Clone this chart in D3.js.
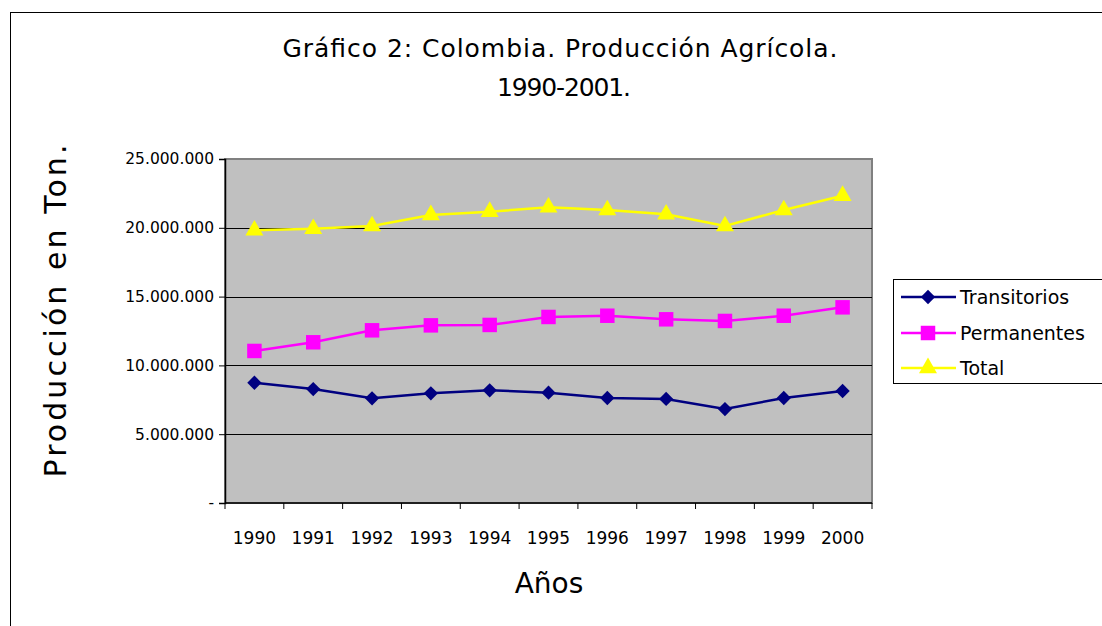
<!DOCTYPE html>
<html>
<head>
<meta charset="utf-8">
<script src="https://cdn.jsdelivr.net/npm/d3@7"></script>
<style>
  html, body { margin: 0; padding: 0; background: #fff; }
  svg text { font-family: "DejaVu Sans", sans-serif; fill: #000; }
</style>
</head>
<body>
<div id="chart"></div>
<script>
// Colombia agricultural production, tons
const years = ["1990", "1991", "1992", "1993", "1994", "1995", "1996", "1997", "1998", "1999", "2000"];
const transitorios = [8740000, 8280000, 7610000, 7970000, 8190000, 8020000, 7630000, 7560000, 6830000, 7630000, 8140000];
const permanentes = [11050000, 11680000, 12550000, 12910000, 12940000, 13520000, 13610000, 13350000, 13230000, 13610000, 14220000];
const total = [19820000, 19930000, 20130000, 20930000, 21170000, 21490000, 21290000, 20980000, 20130000, 21290000, 22330000];
const yTicks = [0, 5000000, 10000000, 15000000, 20000000, 25000000];

const series = [
  { name: "Transitorios", values: transitorios, color: "#000080", symbol: d3.symbolDiamond2, size: 130 },
  { name: "Permanentes", values: permanentes, color: "#FF00FF", symbol: d3.symbolSquare, size: 210 },
  { name: "Total", values: total, color: "#FFFF00", symbol: d3.symbolTriangle, size: 140 }
];

const W = 1102, H = 626;
const plot = { left: 225, top: 159, right: 872, bottom: 503 };

const svg = d3.select("#chart").append("svg")
    .attr("width", W)
    .attr("height", H);

// outer chart border (cut off on right/bottom like the original)
svg.append("rect")
    .attr("x", 10.5).attr("y", 12.5)
    .attr("width", W).attr("height", H)
    .attr("fill", "#fff")
    .attr("stroke", "#000")
    .attr("stroke-width", 1);

// title
svg.append("text")
    .attr("x", 560).attr("y", 57)
    .attr("text-anchor", "middle")
    .attr("textLength", 555)
    .attr("lengthAdjust", "spacing")
    .style("font-size", "25px")
    .text("Gráfico 2: Colombia. Producción Agrícola.");
svg.append("text")
    .attr("x", 564).attr("y", 96)
    .attr("text-anchor", "middle")
    .attr("textLength", 134)
    .attr("lengthAdjust", "spacing")
    .style("font-size", "25px")
    .text("1990-2001.");

const x = d3.scaleBand()
    .domain(years)
    .range([plot.left, plot.right]);

const y = d3.scaleLinear()
    .domain([0, 25000000])
    .range([plot.bottom, plot.top]);

const esFormat = d3.formatLocale({ decimal: ",", thousands: ".", grouping: [3], currency: ["", ""] }).format(",.0f");

// plot background
svg.append("rect")
    .attr("x", plot.left).attr("y", plot.top)
    .attr("width", plot.right - plot.left)
    .attr("height", plot.bottom - plot.top)
    .attr("fill", "#C0C0C0")
    .attr("stroke", "#808080")
    .attr("stroke-width", 2);

// gridlines
svg.append("g")
    .selectAll("line")
    .data(yTicks.filter(d => d > 0 && d < 25000000))
    .join("line")
    .attr("x1", plot.left).attr("x2", plot.right)
    .attr("y1", d => Math.round(y(d)) + 0.5)
    .attr("y2", d => Math.round(y(d)) + 0.5)
    .attr("stroke", "#000")
    .attr("stroke-width", 1);

// y axis
const yAxis = svg.append("g")
    .attr("transform", `translate(${plot.left},0)`)
    .call(d3.axisLeft(y)
        .tickValues(yTicks)
        .tickSize(6)
        .tickPadding(5)
        .tickFormat(d => d === 0 ? "-" : esFormat(d)));
yAxis.select(".domain").attr("stroke", "#000").attr("stroke-width", 1.5);
yAxis.selectAll("text")
    .style("font-size", "15.5px")
    .style("font-family", "DejaVu Sans, sans-serif");

// x axis: ticks between categories
const xAxisG = svg.append("g")
    .attr("transform", `translate(0,${plot.bottom})`);
xAxisG.append("line")
    .attr("x1", plot.left).attr("x2", plot.right)
    .attr("stroke", "#000").attr("stroke-width", 1.5);
xAxisG.selectAll("line.tick")
    .data(years.concat(["end"]))
    .join("line")
    .attr("class", "tick")
    .attr("x1", (d, i) => i < years.length ? x(d) : plot.right)
    .attr("x2", (d, i) => i < years.length ? x(d) : plot.right)
    .attr("y1", 0).attr("y2", 6)
    .attr("stroke", "#000");
xAxisG.selectAll("text")
    .data(years)
    .join("text")
    .attr("x", d => x(d) + x.bandwidth() / 2)
    .attr("y", 41)
    .attr("text-anchor", "middle")
    .style("font-size", "17px")
    .text(d => d);

// axis titles
svg.append("text")
    .attr("x", 549).attr("y", 593)
    .attr("text-anchor", "middle")
    .style("font-size", "28px")
    .text("Años");
svg.append("text")
    .attr("transform", "translate(66,311) rotate(-90)")
    .attr("text-anchor", "middle")
    .attr("textLength", 333)
    .attr("lengthAdjust", "spacing")
    .style("font-size", "30px")
    .text("Producción en Ton.");

// lines + markers
const line = d3.line()
    .x((d, i) => x(years[i]) + x.bandwidth() / 2)
    .y(d => y(d));

series.forEach(s => {
    svg.append("path")
        .datum(s.values)
        .attr("fill", "none")
        .attr("stroke", s.color)
        .attr("stroke-width", 2.5)
        .attr("d", line);
    svg.append("g")
        .selectAll("path")
        .data(s.values)
        .join("path")
        .attr("transform", (d, i) => `translate(${x(years[i]) + x.bandwidth() / 2},${y(d)})`)
        .attr("d", d3.symbol().type(s.symbol).size(s.size))
        .attr("fill", s.color);
});

// legend
const legend = svg.append("g");
legend.append("rect")
    .attr("x", 893.5).attr("y", 279.5)
    .attr("width", 240).attr("height", 104)
    .attr("fill", "#fff")
    .attr("stroke", "#000");
const legendRows = [297, 333, 368];
series.forEach((s, i) => {
    const g = legend.append("g").attr("transform", `translate(0,${legendRows[i]})`);
    g.append("line")
        .attr("x1", 901).attr("x2", 956)
        .attr("stroke", s.color).attr("stroke-width", 2.5);
    g.append("path")
        .attr("transform", "translate(928,0)")
        .attr("d", d3.symbol().type(s.symbol).size(s.size))
        .attr("fill", s.color);
    g.append("text")
        .attr("x", 960).attr("y", 7)
        .style("font-size", "19px")
        .text(s.name);
});
</script>
</body>
</html>
